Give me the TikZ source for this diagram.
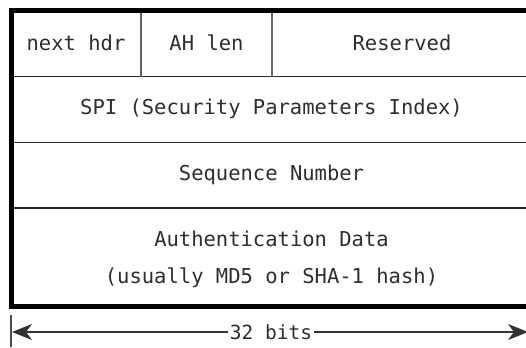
\documentclass[tikz,border=0pt]{standalone}
\usepackage{fontspec}
\newfontfamily\hdrfont{DejaVu Sans Mono}
\usetikzlibrary{arrows.meta}
\definecolor{ink}{HTML}{2E2E2E}
\tikzset{
  frame/.style={line width=5bp, black},
  rowline/.style={line width=1.6bp, black!85},
  colline/.style={line width=2.4bp, black!60},
  field/.style={inner sep=0pt, text=ink, font=\hdrfont\fontsize{20.5bp}{37bp}\selectfont, align=center},
  dim/.style={line width=1.4bp, black!80, -{Stealth[length=20bp,width=16bp,inset=6bp]}},
}
\begin{document}
\begin{tikzpicture}[x=1bp,y=-1bp]
  \useasboundingbox (0,0) rectangle (526,347);
  \fill[white] (0,0) rectangle (526,347);

  % header outline and field boundaries
  \coordinate (tl) at (11,10.5);
  \coordinate (br) at (532,306);
  \draw[rowline] (11,76.5) -- (532,76.5);
  \draw[rowline] (11,142.5) -- (532,142.5);
  \draw[rowline] (11,208) -- (532,208);
  \draw[colline] (141,10.5) -- (141,76.5);
  \draw[colline] (272,10.5) -- (272,76.5);
  \draw[frame] (tl) rectangle (br);

  % field labels
  \node[field] (nexthdr) at (76,43) {next hdr};
  \node[field] (ahlen) at (206.5,43) {AH len};
  \node[field] (reserved) at (402,43) {Reserved};
  \node[field] (spi) at (271.5,109) {SPI (Security Parameters Index)};
  \node[field] (seq) at (271.5,175) {Sequence Number};
  \node[field] (auth) at (271.5,259) {Authentication Data\\(usually MD5 or SHA-1 hash)};

  % width dimension
  \draw[line width=2bp, black!70] (10.5,315) -- (10.5,347);
  \node[field, fill=white, inner xsep=2bp, font=\hdrfont\fontsize{19.5bp}{24bp}\selectfont] (bits) at (271,332) {32 bits};
  \coordinate (lend) at (12,332);
  \coordinate (rend) at (528,332);
  \draw[dim] (bits.west) -- (lend);
  \draw[dim] (bits.east) -- (rend);
\end{tikzpicture}
\end{document}
